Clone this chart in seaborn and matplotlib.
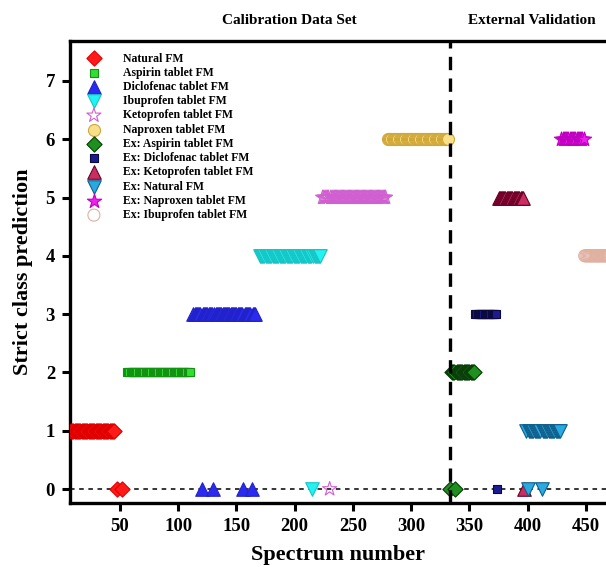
import numpy as np
import pandas as pd
import matplotlib
matplotlib.use("Agg")
import matplotlib.pyplot as plt
import seaborn as sns

# spectrum number runs (first, last) and the class predicted for the run,
# plus single spectra that were predicted as class 0
natural_run, natural_cls, natural_zero = (8, 45), 1, [47, 52]
aspirin_run, aspirin_cls, aspirin_zero = (56, 110), 2, []
diclo_run, diclo_cls, diclo_zero = (113, 166), 3, [120, 130, 156, 163]
ibu_run, ibu_cls, ibu_zero = (170, 222), 4, [215]
keto_run, keto_cls, keto_zero = (224, 278), 5, [230]
napro_run, napro_cls, napro_zero = (280, 332), 6, []

ex_aspirin_run, ex_aspirin_cls, ex_aspirin_zero = (335, 354), 2, [333, 338]
ex_diclo_run, ex_diclo_cls, ex_diclo_zero = (355, 373), 3, [374]
ex_keto_run, ex_keto_cls, ex_keto_zero = (375, 397), 5, [397]
ex_natural_run, ex_natural_cls, ex_natural_zero = (399, 428), 1, [400, 412]
ex_napro_run, ex_napro_cls, ex_napro_zero = (429, 448), 6, []
ex_ibu_run, ex_ibu_cls, ex_ibu_zero = (449, 470), 4, []

series_names = ["Natural FM", "Aspirin tablet FM", "Diclofenac tablet FM",
                "Ibuprofen tablet FM", "Ketoprofen tablet FM", "Naproxen tablet FM",
                "Ex: Aspirin tablet FM", "Ex: Diclofenac tablet FM",
                "Ex: Ketoprofen tablet FM", "Ex: Natural FM",
                "Ex: Naproxen tablet FM", "Ex: Ibuprofen tablet FM"]
runs = [natural_run, aspirin_run, diclo_run, ibu_run, keto_run, napro_run,
        ex_aspirin_run, ex_diclo_run, ex_keto_run, ex_natural_run, ex_napro_run, ex_ibu_run]
classes = [natural_cls, aspirin_cls, diclo_cls, ibu_cls, keto_cls, napro_cls,
           ex_aspirin_cls, ex_diclo_cls, ex_keto_cls, ex_natural_cls, ex_napro_cls, ex_ibu_cls]
zeros = [natural_zero, aspirin_zero, diclo_zero, ibu_zero, keto_zero, napro_zero,
         ex_aspirin_zero, ex_diclo_zero, ex_keto_zero, ex_natural_zero, ex_napro_zero, ex_ibu_zero]

# marker, size, face, edge
styles = [
    ("D", 60, "#ff1a1a", "#e00000"),
    ("s", 40, "#33dd33", "#129412"),
    ("^", 95, "#2b2bf0", "#2222c8"),
    ("v", 95, "#22f2f2", "#18c4c4"),
    ("*", 115, "none", "#d060d0"),
    ("o", 75, "#f8e08a", "#d0a838"),
    ("D", 60, "#1f8f1f", "#0a3a0a"),
    ("s", 40, "#1c1c90", "#0a0a40"),
    ("^", 95, "#cc2d60", "#6a0028"),
    ("v", 95, "#2aa8e0", "#105f8a"),
    ("*", 115, "#ee22ee", "#c000c0"),
    ("o", 75, "none", "#e0b0a0"),
]

rows = []
for name, (a, b), c, z in zip(series_names, runs, classes, zeros):
    for n in range(a, b + 1):
        if n not in z:
            rows.append((name, n, c))
    for n in z:
        rows.append((name, n, 0))
df = pd.DataFrame(rows, columns=["series", "spectrum", "pred"])

sns.set_style("ticks")
plt.rcParams["font.family"] = ["Liberation Serif", "DejaVu Serif"]
plt.rcParams["font.weight"] = "bold"
plt.rcParams["text.color"] = "black"
plt.rcParams["axes.labelcolor"] = "black"

fig = plt.figure(figsize=(6.06, 5.67), dpi=100)
ax = fig.add_axes([0.116, 0.1134, 0.884, 0.8148])

for name, (m, s, fc, ec) in zip(series_names, styles):
    d = df[df["series"] == name]
    sns.scatterplot(data=d, x="spectrum", y="pred", marker=m, s=s,
                    color=fc, edgecolor=ec, linewidth=0.8, label=name,
                    ax=ax, zorder=3, clip_on=True)

ax.axhline(0, color="black", linestyle=(0, (3, 3)), linewidth=1.1, zorder=1)
ax.axvline(333, color="black", linestyle=(0, (4, 2.5)), linewidth=2.4, zorder=4)

ax.set_xlim(7.3, 467.3)
ax.set_ylim(-0.235, 7.69)
ax.set_xticks([50, 100, 150, 200, 250, 300, 350, 400, 450])
ax.set_yticks(range(8))
ax.tick_params(axis="both", direction="out", length=6, width=2.2, labelsize=13.5,
               pad=5, colors="black")
for lab in ax.get_xticklabels() + ax.get_yticklabels():
    lab.set_fontweight("bold")
for side in ["left", "bottom", "top"]:
    ax.spines[side].set_linewidth(2.4)
    ax.spines[side].set_color("black")
ax.spines["right"].set_visible(False)

ax.set_xlabel("Spectrum number", fontsize=16, fontweight="bold", labelpad=7)
ax.set_ylabel("Strict class prediction", fontsize=16, fontweight="bold", labelpad=9)

fig.text(0.477, 0.9635, "Calibration Data Set", ha="center", va="center",
         fontsize=11, fontweight="bold")
fig.text(0.878, 0.9635, "External Validation", ha="center", va="center",
         fontsize=11, fontweight="bold")

leg = ax.legend(loc="upper left", frameon=False, prop={"size": 8.5, "weight": "bold"},
                labelspacing=0.19, handletextpad=1.5, borderaxespad=0.3,
                borderpad=0.7, markerscale=1.0)

fig.savefig("out.png", dpi=100)
